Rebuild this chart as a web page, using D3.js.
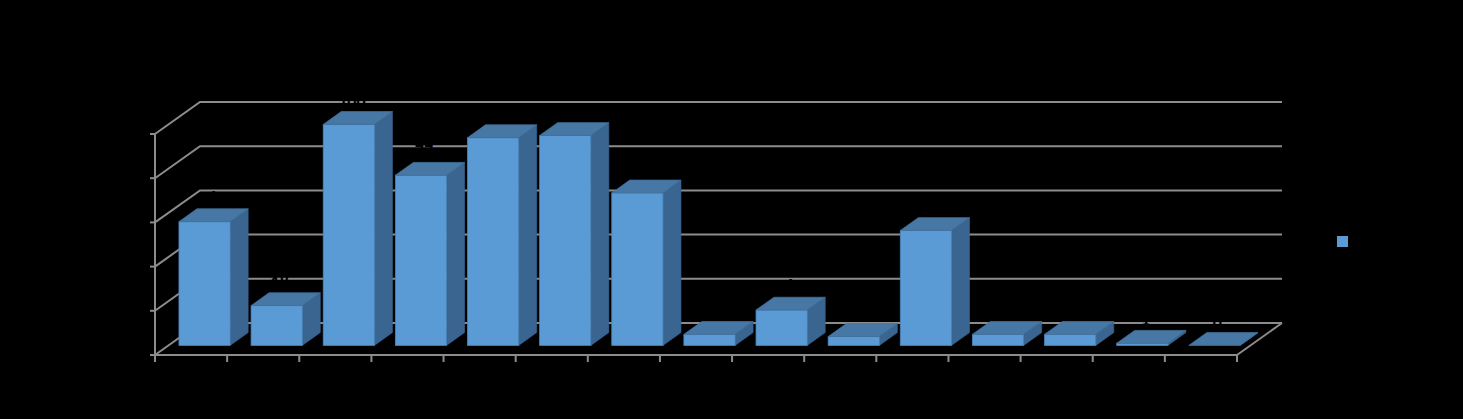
<!DOCTYPE html>
<html><head><meta charset="utf-8">
<script src="https://cdn.jsdelivr.net/npm/d3@7"></script>
<style>html,body{margin:0;padding:0;background:#000;}svg{display:block;}</style>
</head><body>
<svg id="c" width="1463" height="419"></svg>
<script>
const categories = ["1","2","3","4","5","6","7","8","9","10","11","12","13","14","15"];
const values = [56, 18, 100, 77, 94, 95, 69, 5, 16, 4, 52, 5, 5, 1, 0];
const yTicks = [0, 20, 40, 60, 80, 100];
const seriesName = "Series1";

const svg = d3.select("#c");
svg.append("rect").attr("width",1463).attr("height",419).attr("fill","#000");

const x0 = 155, x1 = 1237, yBase = 355, yTop = 134;
const DX = 45, DY = -32; // full depth offset
const d0 = 0.3, d1 = 0.7; // bar depth range

const x = d3.scaleBand().domain(categories).range([x0, x1]).paddingInner(0.29).paddingOuter(0.145);
const y = d3.scaleLinear().domain([0, 100]).range([yBase, yTop]);
const grid = "#8c8c8c";
const font = "Calibri, Carlito, 'Liberation Sans', sans-serif";

const g = svg.append("g");
yTicks.forEach(v => {
  const yy = y(v);
  g.append("path").attr("d", `M${x0},${yy} L${x0+DX},${yy+DY} L${x1+DX},${yy+DY}`)
    .attr("fill","none").attr("stroke",grid).attr("stroke-width",2);
  g.append("line").attr("x1",x0-5).attr("x2",x0).attr("y1",yy).attr("y2",yy).attr("stroke",grid).attr("stroke-width",2);
  g.append("text").attr("x",x0-9).attr("y",yy+5).attr("text-anchor","end")
    .attr("font-family",font).attr("font-size",14).attr("fill","#000").text(v);
});
g.append("line").attr("x1",x0).attr("x2",x1).attr("y1",yBase).attr("y2",yBase).attr("stroke",grid).attr("stroke-width",2);
g.append("line").attr("x1",x1).attr("x2",x1+DX).attr("y1",yBase).attr("y2",yBase+DY).attr("stroke",grid).attr("stroke-width",2);
g.append("line").attr("x1",x0).attr("x2",x0).attr("y1",yTop).attr("y2",yBase).attr("stroke",grid).attr("stroke-width",2);
const step = x.step();
for (let k = 0; k <= categories.length; k++) {
  const xx = x0 + k*step;
  g.append("line").attr("x1",xx).attr("x2",xx).attr("y1",yBase).attr("y2",yBase+7).attr("stroke",grid).attr("stroke-width",2);
}
categories.forEach(c => {
  g.append("text").attr("x", x(c)+x.bandwidth()/2).attr("y", yBase+22).attr("text-anchor","middle")
    .attr("font-family",font).attr("font-size",14).attr("fill","#000").text(c);
});

const fx = DX*d0, fy = DY*d0, bdx = DX*(d1-d0), bdy = DY*(d1-d0);
const bars = g.append("g");
categories.forEach((c, i) => {
  const v = values[i];
  const xl = x(c) + fx, xr = xl + x.bandwidth();
  const yb = y(0) + fy, yt = y(v) + fy;
  const bg = bars.append("g");
  bg.append("path").attr("d", `M${xr},${yb} L${xr+bdx},${yb+bdy} L${xr+bdx},${yt+bdy} L${xr},${yt} Z`)
    .attr("fill","#3a6590").attr("stroke","#3a6590").attr("stroke-width",0.6);
  bg.append("rect").attr("x",xl).attr("y",yt).attr("width",xr-xl).attr("height",Math.max(0,yb-yt))
    .attr("fill","#5b9bd5").attr("stroke","#4a84ba").attr("stroke-width",0.8);
  bg.append("path").attr("d", `M${xl},${yt} L${xr},${yt} L${xr+bdx},${yt+bdy} L${xl+bdx},${yt+bdy} Z`)
    .attr("fill","#4778a5").attr("stroke","#41709c").attr("stroke-width",0.8);
  bg.append("text").attr("x", (xl+xr)/2 + 3).attr("y", yt + bdy - 5).attr("text-anchor","middle")
    .attr("font-family",font).attr("font-size",18).attr("font-weight","bold")
    .attr("fill","#000").text(v);
});

svg.append("rect").attr("x",1337).attr("y",236).attr("width",11).attr("height",11).attr("fill","#5b9bd5");
svg.append("text").attr("x",1353).attr("y",246).attr("font-family",font)
  .attr("font-size",14).attr("fill","#000").text(seriesName);
</script>
</body></html>
